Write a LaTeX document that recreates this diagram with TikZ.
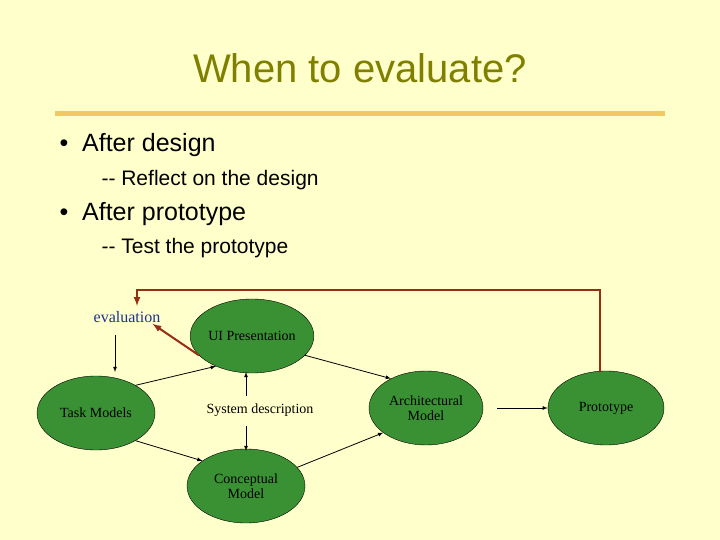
\documentclass[tikz,border=0pt]{standalone}
\usepackage{fontspec}
\usetikzlibrary{shapes.geometric}
\setmainfont{Liberation Serif}
\newfontfamily\arial{Liberation Sans}
\begin{document}
\begin{tikzpicture}[x=1pt,y=-1pt,
  ell/.style={ellipse,draw=black,fill=grn,minimum width=#1,minimum height=74pt,inner sep=0pt,align=center,font=\fontsize{14}{15}\selectfont},
  ell/.default=118pt,
  arr/.style={-latex,thick},
  plain/.style={font=\fontsize{14}{15}\selectfont,inner sep=1pt}]
\definecolor{bgy}{RGB}{255,255,204}
\definecolor{grn}{RGB}{58,145,52}
\definecolor{olv}{RGB}{128,128,0}
\definecolor{gold}{RGB}{240,200,100}
\definecolor{brn}{RGB}{150,45,20}
\definecolor{evb}{RGB}{30,50,140}
\path[fill=bgy] (0,0) rectangle (720,540);
\node[text=olv,font=\arial\fontsize{40}{44}\selectfont] (title) at (360,68) {When to evaluate?};
\draw[gold,line width=5pt] (55,114) -- (665,114);
\node[anchor=west,font=\arial\fontsize{25}{28}\selectfont] (b1) at (56,145) {\textbullet\ \ After design};
\node[anchor=west,font=\arial\fontsize{21}{24}\selectfont] (s1) at (98,180) {--\ Reflect on the design};
\node[anchor=west,font=\arial\fontsize{25}{28}\selectfont] (b2) at (56,214) {\textbullet\ \ After prototype};
\node[anchor=west,font=\arial\fontsize{21}{24}\selectfont] (s2) at (98,248) {--\ Test the prototype};
\node[plain,text=evb,font=\fontsize{16}{18}\selectfont] (ev) at (127,317) {evaluation};
\node[ell] (tm) at (96,413) {Task Models};
\node[ell=122pt] (ui) at (252,336) {UI Presentation};
\node[plain] (sd) at (260,410) {System description};
\node[ell] (cm) at (246,486) {Conceptual\\Model};
\node[ell=114pt] (am) at (426,408) {Architectural\\Model};
\node[ell=116pt] (pt) at (606,408) {Prototype};
\coordinate (c1) at (115,335);
\coordinate (c2) at (115,372);
\coordinate (s1a) at (246,396);
\coordinate (s1b) at (246,372);
\coordinate (s2a) at (246,426);
\coordinate (s2b) at (246,451);
\coordinate (a1) at (497,408);
\coordinate (r1) at (600,290);
\coordinate (r2) at (137,290);
\coordinate (r3) at (137,306);
\coordinate (r0) at (600,372);
\draw[arr] (c1) -- (c2);
\draw[arr] (tm.35) -- (ui.220);
\draw[arr] (tm.-35) -- (cm.150);
\draw[arr] (s1a) -- (s1b);
\draw[arr] (s2a) -- (s2b);
\draw[arr] (ui.-20) -- (am.140);
\draw[arr] (cm.20) -- (am.210);
\draw[arr] (a1) -- (pt.west);
\draw[-latex,brn,line width=2pt] (ui.200) -- (ev.-15);
\draw[-latex,brn,line width=2pt] (r0) -- (r1) -- (r2) -- (r3);
\end{tikzpicture}
\end{document}
